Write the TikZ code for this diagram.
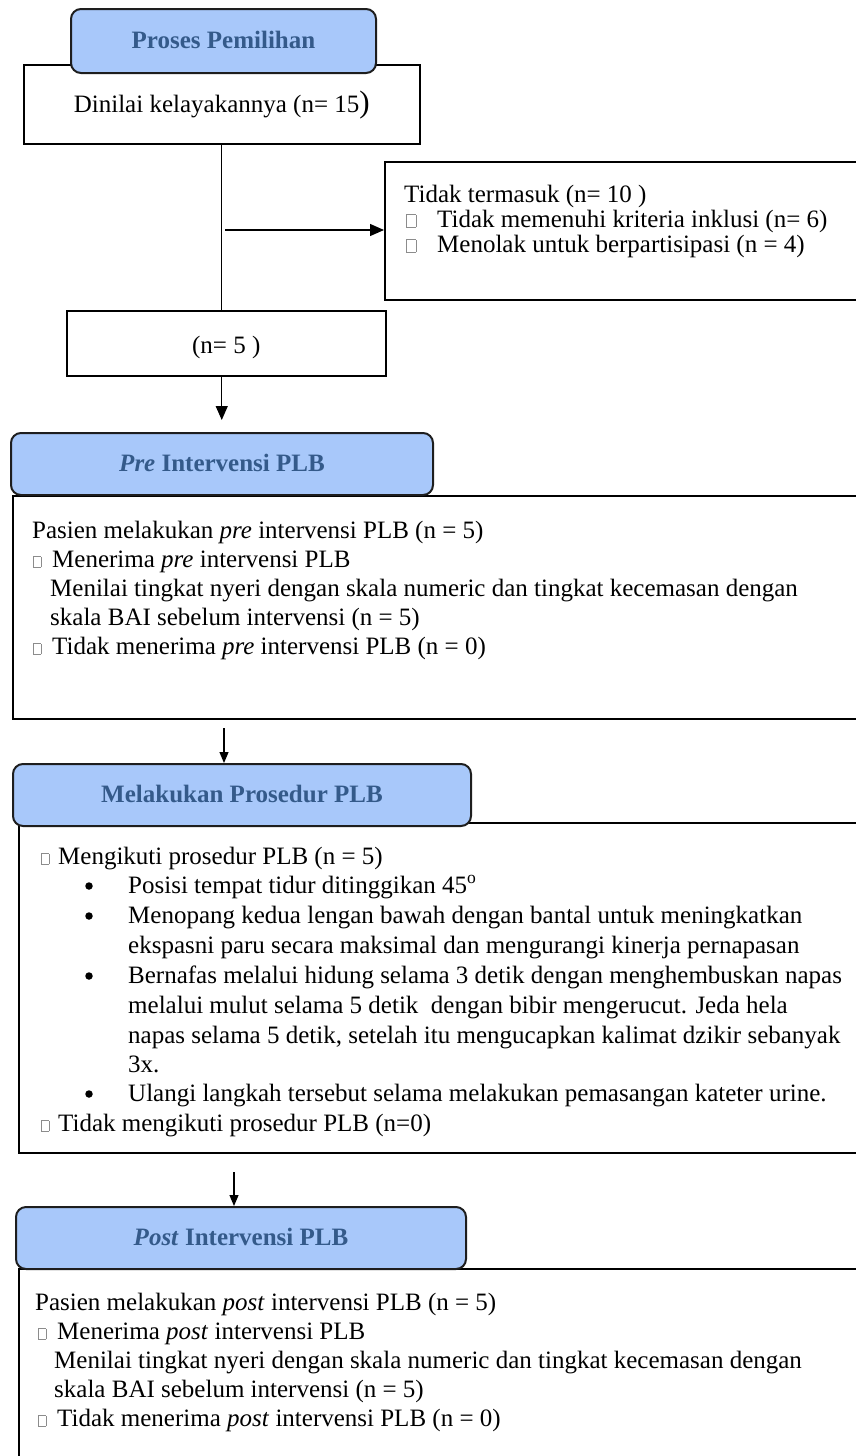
\documentclass[tikz,border=0pt]{standalone}
\usepackage{fontspec}
\setmainfont{Liberation Serif}
\usetikzlibrary{arrows.meta}
\definecolor{hdrfill}{RGB}{168,200,250}
\definecolor{hdrtext}{RGB}{52,90,138}
\definecolor{hdrline}{RGB}{30,30,30}
\newcommand\gsqbig{\textcolor{black!45}{\setlength\fboxsep{0pt}\setlength\fboxrule{0.6pt}\fbox{\rule{0pt}{12pt}\rule{9pt}{0pt}}}}
\newcommand\gsqsm{\textcolor{black!45}{\setlength\fboxsep{0pt}\setlength\fboxrule{0.6pt}\fbox{\rule{0pt}{10pt}\rule{7pt}{0pt}}}}
\tikzset{
  box/.style={draw=black, line width=1.5pt, fill=white, inner sep=0pt, anchor=north west},
  hdr/.style={draw=hdrline, line width=2pt, fill=hdrfill, rounded corners=10pt, inner sep=0pt,
    anchor=north west, text=hdrtext, font=\fontsize{25}{30}\selectfont\bfseries,
    text height=17pt, text depth=3pt},
  toptxt/.style={anchor=base west, inner sep=0pt, font=\fontsize{25}{30}\selectfont},
  txt/.style={anchor=base west, inner sep=0pt, font=\fontsize{25}{29}\selectfont},
  arr/.style={-{Triangle[length=14pt,width=12pt]}, line width=1.3pt},
  arrs/.style={-{Triangle[length=11pt,width=9pt]}, line width=1.2pt},
  bdot/.style={circle, fill=black, inner sep=0pt, minimum size=7.5pt},
}
\begin{document}
\begin{tikzpicture}[x=1pt, y=-1pt]
\useasboundingbox (0,0) rectangle (856,1456);
\clip (0,0) rectangle (856,1456);

% ---- Selection stage ----
\node[box, minimum width=396pt, minimum height=79pt, font=\fontsize{25}{30}\selectfont,
  text height=19pt, text depth=2pt] (b1) at (23,64)
  {Dinilai kelayakannya (n= 15{\fontsize{31}{31}\selectfont)}};
\node[hdr, minimum width=305pt, minimum height=64pt] (h1) at (70,8) {Proses Pemilihan};

\node[box, minimum width=520pt, minimum height=138pt] (tb) at (384,161) {};
\node[toptxt] (tb1) at (404,202) {Tidak termasuk (n= 10 )};
\node[toptxt] (tb2) at (406,227) {\makebox[31pt][l]{\gsqbig}Tidak memenuhi kriteria inklusi (n= 6)};
\node[toptxt] (tb3) at (406,252) {\makebox[31pt][l]{\gsqbig}Menolak untuk berpartisipasi (n = 4)};

\node[box, minimum width=319pt, minimum height=65pt, font=\fontsize{25}{30}\selectfont,
  text height=21pt, text depth=0pt] (n5) at (66,310) {(n= 5 )};

\draw[line width=1.3pt] (b1.south) -- (b1.south |- n5.north);
\coordinate (j1) at (225,230);
\draw[arr] (j1) -- (j1 -| tb.west);
\draw[arr, shorten >=12pt] (b1.south |- n5.south) -- (b1.south |- 0,432);

% ---- Pre intervention ----
\node[box, line width=1.8pt, minimum width=880pt, minimum height=223pt] (b2) at (12,495) {};
\node[hdr, minimum width=422pt, minimum height=62pt] (h2) at (10,432) {\textit{Pre} Intervensi PLB};
\node[txt] (p1) at (32,538) {Pasien melakukan \textit{pre} intervensi PLB (n = 5)};
\node[txt] (p2) at (33,567) {\makebox[19pt][l]{\gsqsm}Menerima \textit{pre} intervensi PLB};
\node[txt] (p3) at (50,596) {Menilai tingkat nyeri dengan skala numeric dan tingkat kecemasan dengan};
\node[txt] (p4) at (50,625) {skala BAI sebelum intervensi (n = 5)};
\node[txt] (p5) at (33,654) {\makebox[19pt][l]{\gsqsm}Tidak menerima \textit{pre} intervensi PLB (n = 0)};

% ---- Procedure ----
\node[box, line width=1.8pt, minimum width=880pt, minimum height=330pt] (b3) at (18,822) {};
\node[hdr, minimum width=458pt, minimum height=62pt] (h3) at (12,763) {Melakukan Prosedur PLB};
\coordinate (a2) at (224,728);
\draw[arrs] (a2) -- (a2 |- h3.north);

\node[txt] (m0) at (41,864) {\makebox[17pt][l]{\gsqsm}Mengikuti prosedur PLB (n = 5)};
\node[bdot] (d1) at (89,886) {};
\node[txt] (m1) at (128,893) {Posisi tempat tidur ditinggikan 45\textsuperscript{o}};
\node[bdot] (d2) at (89,916) {};
\node[txt] (m2) at (128,923) {Menopang kedua lengan bawah dengan bantal untuk meningkatkan};
\node[txt] (m3) at (128,953) {ekspasni paru secara maksimal dan mengurangi kinerja pernapasan};
\node[bdot] (d3) at (89,976) {};
\node[txt] (m4) at (128,983) {Bernafas melalui hidung selama 3 detik dengan menghembuskan napas};
\node[txt] (m5) at (128,1013) {melalui mulut selama 5 detik\ \ dengan bibir mengerucut. Jeda hela};
\node[txt] (m6) at (128,1043) {napas selama 5 detik, setelah itu mengucapkan kalimat dzikir sebanyak};
\node[txt] (m7) at (128,1072) {3x.};
\node[bdot] (d4) at (89,1094) {};
\node[txt] (m8) at (128,1101) {Ulangi langkah tersebut selama melakukan pemasangan kateter urine.};
\node[txt] (m9) at (41,1131) {\makebox[17pt][l]{\gsqsm}Tidak mengikuti prosedur PLB (n=0)};

% ---- Post intervention ----
\node[box, line width=1.8pt, minimum width=880pt, minimum height=260pt] (b4) at (18,1268) {};
\node[hdr, minimum width=450pt, minimum height=62pt] (h4) at (15,1206) {\textit{Post} Intervensi PLB};
\coordinate (a3) at (234,1172);
\draw[arrs] (a3) -- (a3 |- h4.north);

\node[txt] (q1) at (35,1310) {Pasien melakukan \textit{post} intervensi PLB (n = 5)};
\node[txt] (q2) at (38,1339) {\makebox[19pt][l]{\gsqsm}Menerima \textit{post} intervensi PLB};
\node[txt] (q3) at (54,1368) {Menilai tingkat nyeri dengan skala numeric dan tingkat kecemasan dengan};
\node[txt] (q4) at (54,1397) {skala BAI sebelum intervensi (n = 5)};
\node[txt] (q5) at (38,1426) {\makebox[19pt][l]{\gsqsm}Tidak menerima \textit{post} intervensi PLB (n = 0)};
\end{tikzpicture}
\end{document}
